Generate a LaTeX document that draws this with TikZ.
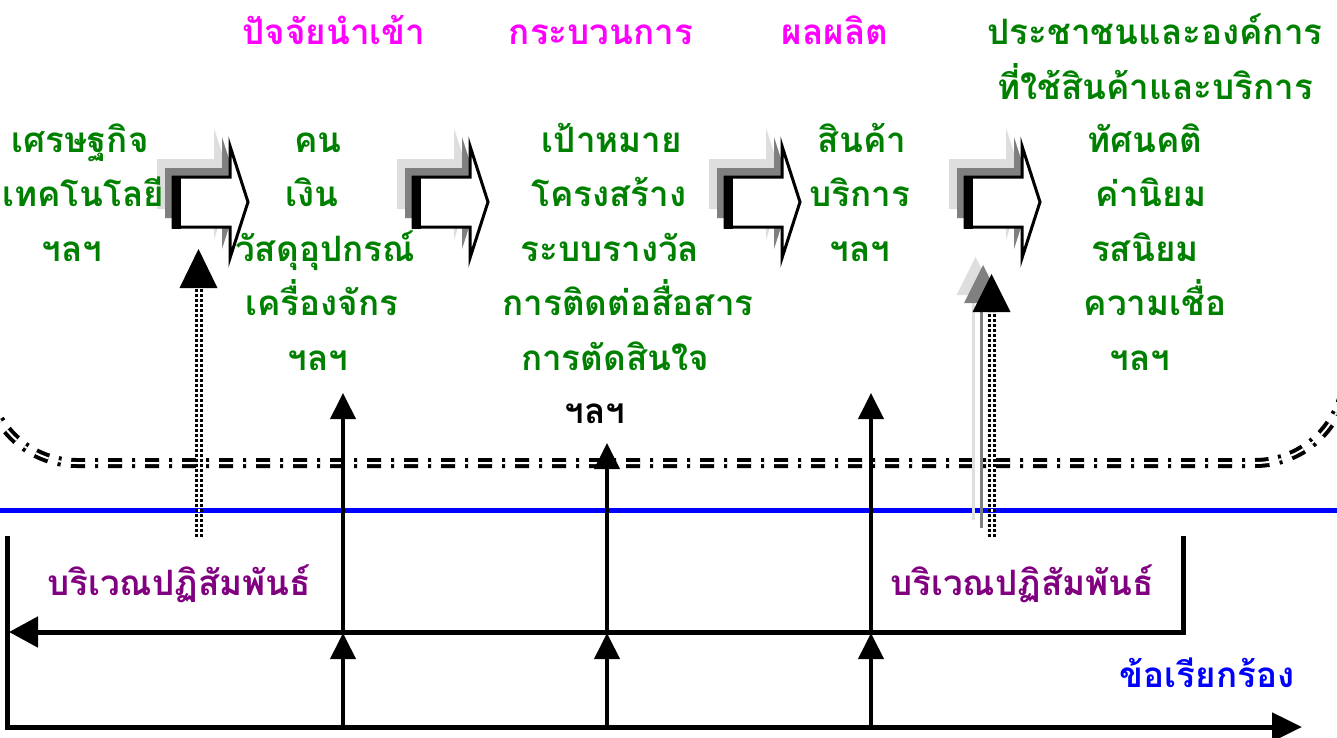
\documentclass[tikz,border=0pt]{standalone}
\usepackage{fontspec}
\newfontfamily\thai[Script=Thai]{Loma}
\usetikzlibrary{arrows.meta}
\definecolor{tgreen}{RGB}{0,128,0}
\definecolor{tmag}{RGB}{255,0,255}
\definecolor{tpurp}{RGB}{128,0,128}
\definecolor{tblue}{RGB}{0,0,255}
\definecolor{sgray}{RGB}{128,128,128}
\definecolor{lgray}{RGB}{222,222,222}
\begin{document}
\begin{tikzpicture}[x=1pt,y=-1pt,
  tx/.style={font=\thai\bfseries\fontsize{35}{35}\selectfont, inner sep=0pt, anchor=base},
  gr/.style={tx, text=tgreen},
  hd/.style={tx, text=tmag},
  pu/.style={tx, text=tpurp},
  frame/.style={line width=5pt, line cap=rect},
  varrow/.style={line width=4pt, -{Triangle[length=26pt,width=25pt]}},
  dotdouble/.style={double=white, double distance=2pt, line width=3pt, dash pattern=on 3pt off 2pt, black},
  dashdot/.style={double=white, double distance=2pt, line width=4pt, dash pattern=on 14pt off 10pt on 3pt off 10pt, black},
  barrowmain/.style={fill=white, draw=black, line width=3pt, line join=miter}
]
\useasboundingbox (0,0) rectangle (1337,737);

% dash-dot boundary
\begin{scope}
\clip (0,0) rectangle (1337,737);
\draw[dashdot, rounded corners=91pt] (-14,250) -- (-14,463) -- (1346,463) -- (1346,250);
\end{scope}

% blue line
\coordinate (bl1) at (0,510);
\coordinate (bl2) at (1337,510);
\draw[tblue, line width=5pt] (bl1) -- (bl2);

% block arrows
\foreach \t in {248,488,800,1040}{
  \begin{scope}[shift={(\t,202)}]
    \fill[lgray, shift={(-16,-18)}] (-75,-25) -- (-18,-25) -- (-18,-56) -- (0,0) -- (-18,56) -- (-18,25) -- (-75,25) -- cycle;
    \fill[sgray, shift={(-8,-9)}] (-75,-25) -- (-18,-25) -- (-18,-56) -- (0,0) -- (-18,56) -- (-18,25) -- (-75,25) -- cycle;
    \draw[barrowmain] (-75,-25) -- (-18,-25) -- (-18,-56) -- (0,0) -- (-18,56) -- (-18,25) -- (-75,25) -- cycle;
    \fill[black] (-76.5,-26.5) rectangle (-67,26.5);
  \end{scope}
}

% bottom frame lines
\coordinate (fL) at (7,538);
\coordinate (fR) at (1302,727);
\draw[frame, -{Triangle[length=30pt,width=28pt]}] (fL) |- (fR);
\coordinate (gR) at (1183,538);
\coordinate (gL) at (9,632);
\draw[frame, -{Triangle[length=29pt,width=30pt]}] (gR) |- (gL);

% vertical arrows
\foreach \n/\x/\top in {a/343/393, b/607/443, c/871/393}{
  \coordinate (\n0) at (\x,727);
  \coordinate (\n1) at (\x,633);
  \coordinate (\n2) at (\x,\top);
  \draw[varrow] (\n0) -- (\n1);
  \draw[varrow] (\n1) -- (\n2);
}

% dotted arrow left
\coordinate (d0) at (198.5,537);
\coordinate (d1) at (198.5,288);
\draw[dotdouble] (d0) -- (d1);
\fill (d1) ++(-19,0) -- ++(38,0) -- ++(-19,-39) -- cycle;

% dotted arrow right with shadows
\coordinate (e0l) at (973,520);
\coordinate (e1l) at (973,295);
\coordinate (e0m) at (981,528);
\coordinate (e1m) at (981,303);
\coordinate (e0) at (991.5,537);
\coordinate (e1) at (991.5,312);
\draw[lgray, line width=3pt] (e0l) -- (e1l);
\fill[lgray] (e1l) ++(-16.5,0) -- ++(38,0) -- ++(-19,-38) -- cycle;
\draw[sgray, line width=3pt] (e0m) -- (e1m);
\fill[sgray] (e1m) ++(-17,0) -- ++(38,0) -- ++(-19,-38) -- cycle;
\draw[dotdouble] (e0) -- (e1);
\fill (e1) ++(-19,0) -- ++(38,0) -- ++(-19,-38) -- cycle;

% headers
\node[hd] (h1) at (334,44) {ปัจจัยนำเข้า};
\node[hd] (h2) at (601,44) {กระบวนการ};
\node[hd] (h3) at (835,44) {ผลผลิต};
\node[gr] (h4) at (1155,44) {ประชาชนและองค์การ};
\node[gr] (h5) at (1155,99) {ที่ใช้สินค้าและบริการ};

% column 1
\node[gr] (c1a) at (80,152) {เศรษฐกิจ};
\node[gr] (c1b) at (83,206.5) {เทคโนโลยี};
\node[gr] (c1c) at (72,261) {ฯลฯ};

% column 2
\node[gr] (c2a) at (318,152) {คน};
\node[gr] (c2b) at (312,206.5) {เงิน};
\node[gr] (c2c) at (325,261) {วัสดุอุปกรณ์};
\node[gr] (c2d) at (322,315.5) {เครื่องจักร};
\node[gr] (c2e) at (318,370) {ฯลฯ};

% column 3
\node[gr] (c3a) at (612,152) {เป้าหมาย};
\node[gr] (c3b) at (609,206.5) {โครงสร้าง};
\node[gr] (c3c) at (610,261) {ระบบรางวัล};
\node[gr] (c3d) at (628,315.5) {การติดต่อสื่อสาร};
\node[gr] (c3e) at (615,370) {การตัดสินใจ};
\node[tx] (c3f) at (595,423) {ฯลฯ};

% column 4
\node[gr] (c4a) at (862,152) {สินค้า};
\node[gr] (c4b) at (860,206.5) {บริการ};
\node[gr] (c4c) at (860,261) {ฯลฯ};

% column 5
\node[gr] (c5a) at (1145,152) {ทัศนคติ};
\node[gr] (c5b) at (1151,206.5) {ค่านิยม};
\node[gr] (c5c) at (1145,261) {รสนิยม};
\node[gr] (c5d) at (1155,315.5) {ความเชื่อ};
\node[gr] (c5e) at (1140,370) {ฯลฯ};

% interaction areas
\node[pu] (p1) at (179,595) {บริเวณปฏิสัมพันธ์};
\node[pu] (p2) at (1022,595) {บริเวณปฏิสัมพันธ์};
\node[tx, text=tblue] (q1) at (1207,687) {ข้อเรียกร้อง};
\end{tikzpicture}
\end{document}
